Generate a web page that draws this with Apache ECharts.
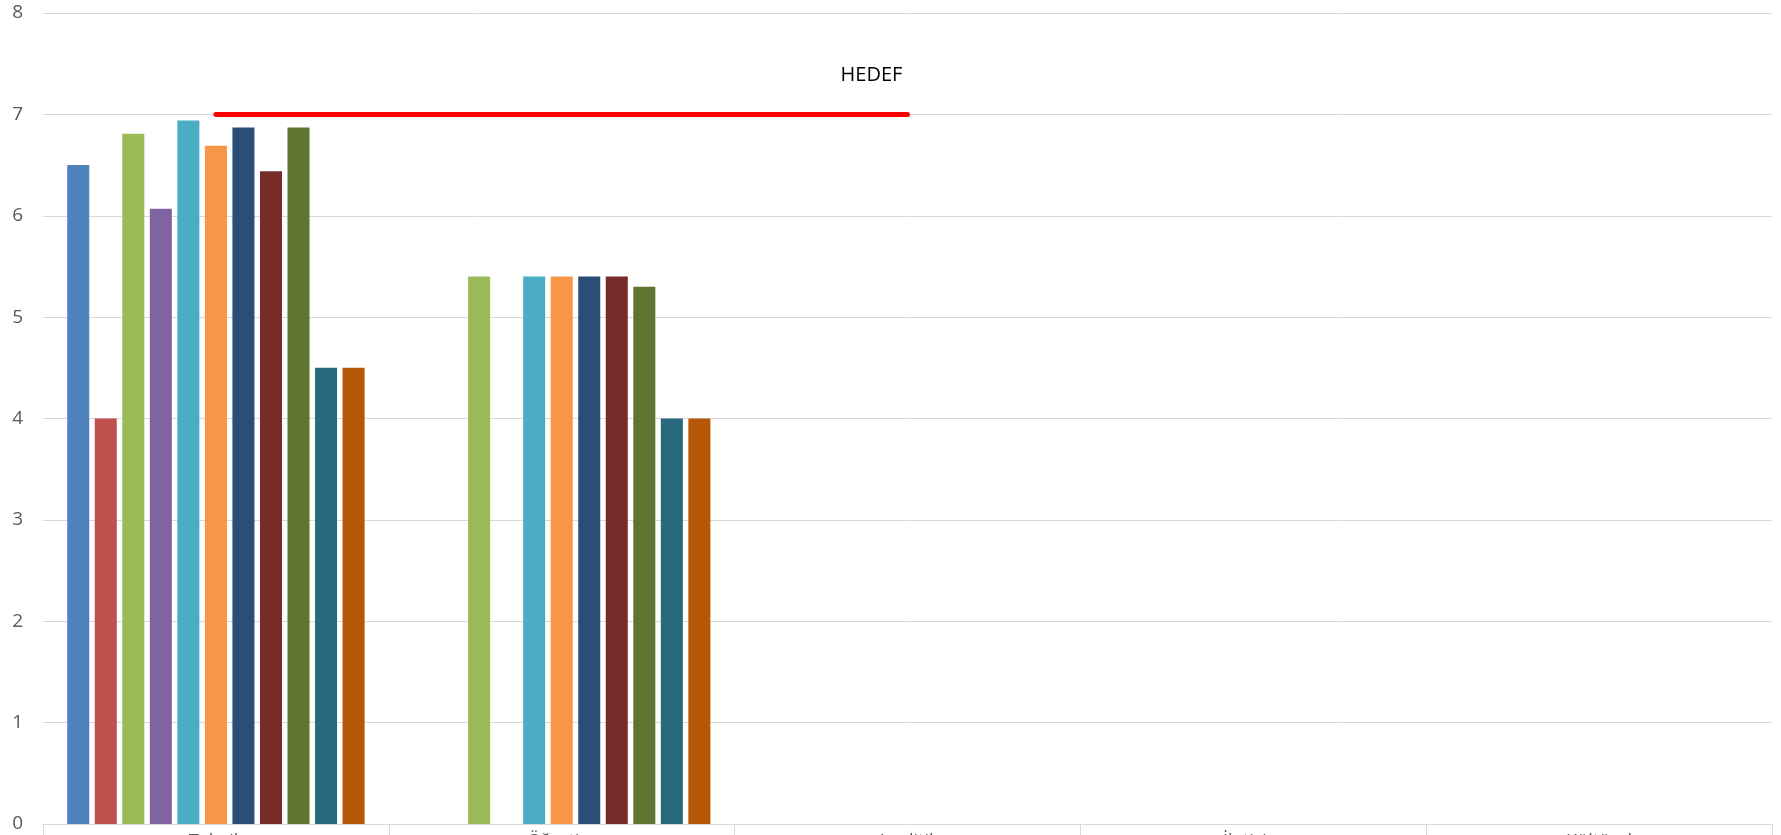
<!DOCTYPE html>
<html>
<head>
<meta charset="utf-8">
<script src="https://cdn.jsdelivr.net/npm/echarts@6/dist/echarts.min.js"></script>
<style>
  html, body { margin: 0; padding: 0; background: #fff; overflow: hidden; }
  #main { width: 1781px; height: 835px; }
</style>
</head>
<body>
<div id="main"></div>
<script type="text/javascript">
    // kategori etiketleri (resimde alttan kesik)
    var categories = ['Teknik', 'Öğretim', 'Analitik', 'İletişim', 'Kültürel'];
    var yTicks = [0, 1, 2, 3, 4, 5, 6, 7, 8];

    // her seri: kategori başına değer
    var s1  = [6.50, null, null, null, null];
    var s2  = [4.00, null, null, null, null];
    var s3  = [6.81, 5.40, null, null, null];
    var s4  = [6.07, null, null, null, null];
    var s5  = [6.94, 5.40, null, null, null];
    var s6  = [6.69, 5.40, null, null, null];
    var s7  = [6.87, 5.40, null, null, null];
    var s8  = [6.44, 5.40, null, null, null];
    var s9  = [6.87, 5.30, null, null, null];
    var s10 = [4.50, 4.00, null, null, null];
    var s11 = [4.50, 4.00, null, null, null];
    var hedef = [7, 7, 7, null, null];

    var colors = ['#4F81BD', '#C0504D', '#9BBB59', '#8064A2', '#4BACC6', '#F79646',
                  '#2C4D75', '#772C2A', '#5F7530', '#276A7C', '#B65708'];
    var barData = [s1, s2, s3, s4, s5, s6, s7, s8, s9, s10, s11];

    var myChart = echarts.init(document.getElementById('main'));

    var series = [];
    for (var i = 0; i < barData.length; i++) {
        series.push({
            name: 'Seri ' + (i + 1),
            type: 'bar',
            data: barData[i],
            barGap: '25%',
            barCategoryGap: '14%',
            itemStyle: { color: colors[i] }
        });
    }
    series.push({
        name: 'HEDEF',
        type: 'line',
        data: hedef,
        symbol: 'circle',
        symbolSize: 1,
        showSymbol: true,
        z: 10,
        itemStyle: { color: '#FF0000' },
        lineStyle: { color: '#FF0000', width: 5, cap: 'round' },
        label: {
            show: true,
            position: 'top',
            offset: [-36, -24],
            color: '#000',
            fontSize: 20,
            fontFamily: 'Open Sans',
            formatter: function (p) { return p.dataIndex === 2 ? 'HEDEF' : ''; }
        }
    });

    myChart.setOption({
        animation: false,
        grid: { left: 43, right: 9, top: 13, bottom: 11, containLabel: false, outerBoundsMode: 'none' },
        xAxis: {
            type: 'category',
            data: categories,
            axisLine: { lineStyle: { color: '#D9D9D9', width: 1 } },
            axisTick: { show: true, alignWithLabel: false, length: 14, lineStyle: { color: '#D9D9D9' } },
            axisLabel: { color: '#595959', fontSize: 18, margin: 9, fontFamily: 'Open Sans' }
        },
        yAxis: {
            type: 'value',
            min: yTicks[0],
            max: yTicks[yTicks.length - 1],
            interval: 1,
            axisLine: { show: false },
            axisTick: { show: false },
            splitLine: { lineStyle: { color: '#D9D9D9', width: 1 } },
            axisLabel: { color: '#595959', fontSize: 19, margin: 20, fontFamily: 'Open Sans' }
        },
        series: series
    });
</script>
</body>
</html>
